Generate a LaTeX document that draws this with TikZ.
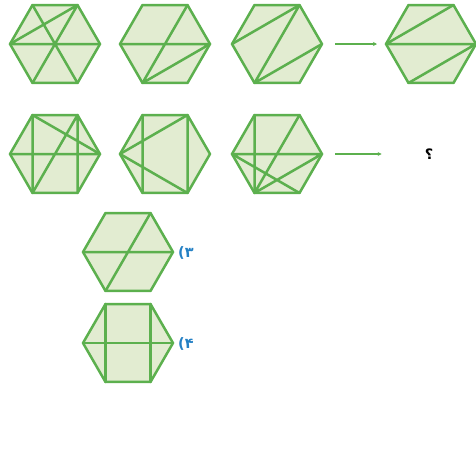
\documentclass[tikz,border=0pt]{standalone}
\usepackage{fontspec}
\usetikzlibrary{arrows.meta,calc}
\newfontfamily\persianfont[Script=Arabic]{DejaVu Sans}
\definecolor{hexgreen}{RGB}{92,176,78}
\definecolor{hexfill}{RGB}{226,236,209}
\definecolor{optblue}{RGB}{36,128,196}
\tikzset{
  hexline/.style={draw=hexgreen,line width=2.5pt,line join=round,line cap=round},
  arrowline/.style={draw=hexgreen,line width=2.3pt,-{Stealth[length=4pt,width=4pt]}},
  optlabel/.style={font=\persianfont\bfseries\Large,text=optblue,anchor=west,inner sep=1pt}
}
% hexagon with named corners: #1 name, #2 x, #3 y
\newcommand{\hexa}[3]{%
  \foreach \a/\c in {0/R,-60/TR,-120/TL,180/L,120/BL,60/BR}
    \coordinate (#1\c) at ($(#2,#3)+(\a:45)$);
  \draw[hexline,fill=hexfill] (#1R)--(#1TR)--(#1TL)--(#1L)--(#1BL)--(#1BR)--cycle;}
\begin{document}
\begin{tikzpicture}[x=1pt,y=-1pt]
\useasboundingbox (0,0) rectangle (475,475);
% first row
\hexa{a1}{55}{44}
\draw[hexline] (a1L)--(a1R) (a1TL)--(a1BR) (a1TR)--(a1BL) (a1L)--(a1TR);
\hexa{a2}{165}{44}
\draw[hexline] (a2L)--(a2R) (a2TR)--(a2BL) (a2BL)--(a2R);
\hexa{a3}{277}{44}
\draw[hexline] (a3L)--(a3TR)--(a3BL)--(a3R);
\hexa{a4}{431}{44}
\draw[hexline] (a4L)--(a4TR) (a4L)--(a4R) (a4R)--(a4BL);
\draw[arrowline,shorten <=13pt,shorten >=9pt] (a3R)--(a4L);
% second row
\hexa{b1}{55}{154}
\draw[hexline] (b1TL)--(b1BL) (b1TR)--(b1BR) (b1L)--(b1R) (b1TL)--(b1R) (b1TR)--(b1BL);
\hexa{b2}{165}{154}
\draw[hexline] (b2TL)--(b2BL) (b2TR)--(b2BR) (b2L)--(b2TR) (b2L)--(b2BR);
\hexa{b3}{277}{154}
\draw[hexline] (b3TL)--(b3BL) (b3L)--(b3R) (b3TR)--(b3BL) (b3R)--(b3BL) (b3L)--(b3BR);
\node[font=\persianfont\bfseries\Large,inner sep=0pt] (quest) at (429,154) {؟};
\draw[arrowline,shorten <=13pt,shorten >=43pt] (b3R)--(quest);
% options
\hexa{c1}{128}{252}
\draw[hexline] (c1L)--(c1R) (c1TR)--(c1BL);
\node[optlabel] (opt3) at ($(c1R)+(4,1)$) {۳)};
\hexa{c2}{128}{343}
\draw[hexline] (c2TL)--(c2BL) (c2TR)--(c2BR) (c2L)--(c2R);
\node[optlabel] (opt4) at ($(c2R)+(4,1)$) {۴)};
\end{tikzpicture}
\end{document}
